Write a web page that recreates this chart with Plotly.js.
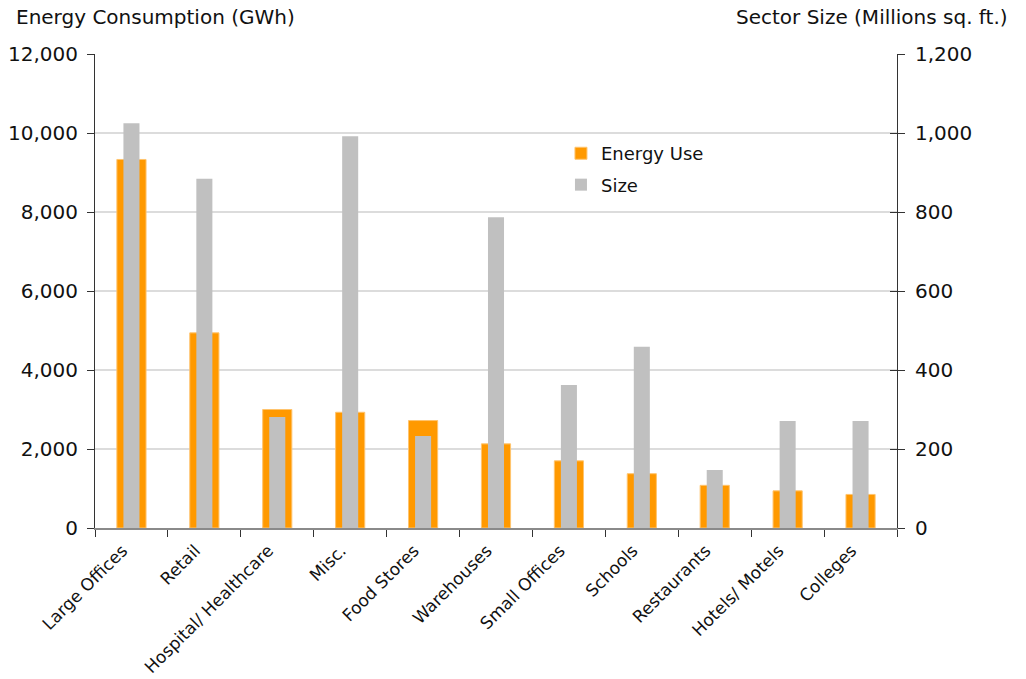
<!DOCTYPE html>
<html>
<head>
<meta charset="utf-8">
<script src="https://cdn.plot.ly/plotly-3.0.1.min.js"></script>
<style>html,body{margin:0;padding:0;background:#fff;}#chart{width:1026px;height:679px;}</style>
</head>
<body>
<div id="chart"></div>
<script>
const categories = ["Large Offices","Retail","Hospital/ Healthcare","Misc.","Food Stores","Warehouses","Small Offices","Schools","Restaurants","Hotels/ Motels","Colleges"];
const energyUse = [9330, 4940, 3000, 2930, 2720, 2130, 1700, 1375, 1080, 940, 850];
const sectorSize = [1025, 884, 281, 992, 233, 787, 362, 459, 147, 271, 271];
const energyTicks = [0, 2000, 4000, 6000, 8000, 10000, 12000];
const sizeTicks = [0, 200, 400, 600, 800, 1000, 1200];

const FONT = "DejaVu Sans, Verdana, sans-serif";

const traces = [
  {
    type: "bar", name: "Energy Use", x: categories, y: energyUse,
    yaxis: "y", width: 0.4, legendgroup: "a",
    marker: {color: "#FF9900", line: {color: "#FFC46E", width: 1}},
    hoverinfo: "x+y"
  },
  {
    type: "bar", name: "Size", x: categories, y: sectorSize,
    yaxis: "y2", width: 0.22, legendgroup: "b",
    marker: {color: "#C0C0C0", line: {width: 0}},
    hoverinfo: "x+y"
  },
  {
    type: "scatter", x: [categories[0]], y: [0], yaxis: "y3",
    mode: "none", showlegend: false, hoverinfo: "skip"
  }
];

const layout = {
  width: 1026, height: 679,
  margin: {l: 95, r: 129, t: 54, b: 151},
  paper_bgcolor: "#fff", plot_bgcolor: "#fff",
  font: {family: FONT, color: "#111", size: 18},
  barmode: "overlay",
  showlegend: true,
  legend: {
    x: 0.581, y: 0.829, xanchor: "left", yanchor: "top",
    bgcolor: "rgba(0,0,0,0)", font: {family: FONT, size: 18, color: "#111"},
    traceorder: "grouped", tracegroupgap: 5
  },
  xaxis: {
    type: "category", tickangle: -45,
    tickfont: {family: FONT, size: 17, color: "#111"},
    ticks: "outside", tickson: "boundaries", ticklen: 7, tickcolor: "#333",
    showline: true, linecolor: "#8a8a8a", linewidth: 2,
    showgrid: false, zeroline: false, ticklabelstandoff: 4, ticklabelshift: -9
  },
  yaxis: {
    range: [0, 12000], tickvals: energyTicks, tickformat: ",d",
    tickfont: {family: FONT, size: 20, color: "#111"},
    ticks: "outside", ticklen: 7, tickcolor: "#333",
    showline: true, linecolor: "#333", linewidth: 1,
    showgrid: true, gridcolor: "#DCDCDC", gridwidth: 1.5,
    zeroline: false, ticklabelstandoff: 5
  },
  yaxis2: {
    range: [0, 1200], tickvals: sizeTicks, tickformat: ",d",
    overlaying: "y", side: "right", anchor: "x",
    tickfont: {family: FONT, size: 20, color: "#111"},
    ticks: "outside", ticklen: 7, tickcolor: "#333",
    showline: true, linecolor: "#333", linewidth: 1,
    showgrid: false, zeroline: false, ticklabelstandoff: 6
  },
  yaxis3: {
    range: [0, 1200], tickvals: sizeTicks,
    overlaying: "y", side: "right", anchor: "x",
    ticks: "inside", ticklen: 7, tickcolor: "#333",
    showticklabels: false, showline: false, showgrid: false, zeroline: false
  },
  annotations: [
    {text: "Energy Consumption (GWh)", xref: "paper", yref: "paper",
     x: -0.101, y: 1.078, xanchor: "left", yanchor: "middle", showarrow: false,
     font: {family: FONT, size: 20, color: "#111"}},
    {text: "Sector Size (Millions sq. ft.)", xref: "paper", yref: "paper",
     x: 1.141, y: 1.078, xanchor: "right", yanchor: "middle", showarrow: false,
     font: {family: FONT, size: 20, color: "#111"}}
  ]
};

Plotly.newPlot("chart", traces, layout, {displayModeBar: false, staticPlot: true});
</script>
</body>
</html>
